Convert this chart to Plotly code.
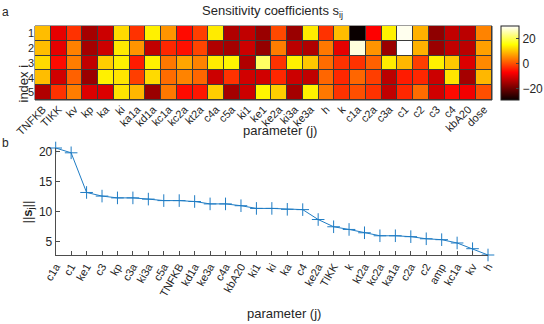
#!/usr/bin/env python3

import plotly.graph_objs as go

W, H = 544, 324

# Panel a: sensitivity coefficients s_ij (rows i = 1..5, columns j = parameters)
params = ["TNFKB", "TIKK", "kv", "kp", "ka", "ki", "ka1a", "kd1a", "kc1a", "kc2a",
          "kt2a", "c4a", "c5a", "ki1", "ke1", "ke2a", "ki3a", "ke3a", "h", "k",
          "c1a", "c2a", "c3a", "c1", "c2", "c3", "c4", "kbA20", "dose"]
row_index = [1, 2, 3, 4, 5]

s_row1 = [9.5, -9, -2.5, -15, -11.5, 12, -2.5, 14, 6, -6,
          -1.5, 13.5, -14, -12.5, -16, -0.5, -16, 13.5, -2.5, 9.5,
          -29, -7, 14, 29, 8.5, -17, -12.5, -13, 4.5]
s_row2 = [9.5, -9, 4.3, -15, -11.5, 13.5, 6, -12.5, -3.5, -5.5,
          -1, -14, -15, -11.5, -16.5, 4, -13, -14, 3.5, -9,
          28, 6, -16, 30, 8.5, -16, -12.5, -13, 7]
s_row3 = [12, -6, 4, -12.5, 11, 14, -4.5, 14, 3.5, 7.5,
          4.5, 13.5, 14.5, -14, 21, -2.5, 14, 10.5, 2.5, -2.5,
          -2.5, 1.5, 13.5, 9, -1.5, 14, 10.5, -10, 5]
s_row4 = [9.5, -11, 1.5, -16, 14, 13, -1.5, 12, 2.5, 4.5,
          2, -11.5, -2.5, -11, -11, -3.5, -11.5, -12.5, 2, -3.5,
          2, -1.5, -13, -4.5, -3.5, -11.5, 13, -15, 9]
s_row5 = [-14, -2.5, 4, -10, -10, 13, 9, -16, 3.5, -6,
          -5, 11, -15, -11.5, 14.5, 11, -15, 14, 3.5, -2.5,
          0, -2.5, -12.5, -3.5, 2.5, -11, -6, -8, 0]

# Panel b: norm of sensitivity per parameter, sorted
ranked_params = ["c1a", "c1", "ke1", "c3", "kp", "c3a", "ki3a", "c5a", "TNFKB", "kd1a",
                 "ke3a", "c4a", "kbA20", "ki1", "ki", "ka", "c4", "ke2a", "TIKK", "k",
                 "kt2a", "kc2a", "ka1a", "c2a", "c2", "amp", "kc1a", "kv", "h"]
s_norm = [20.6, 19.8, 13.2, 12.6, 12.3, 12.3, 12.1, 11.85, 11.85, 11.7,
          11.3, 11.3, 11.0, 10.55, 10.55, 10.4, 10.35, 8.7, 7.5, 7.05,
          6.5, 6.0, 6.0, 5.85, 5.5, 5.35, 4.8, 3.85, 2.8]


def px_x(x):
    return x / W


def px_y(y):
    return 1 - y / H


hot = [[0, "rgb(10,0,0)"], [0.375, "rgb(255,0,0)"],
       [0.75, "rgb(255,255,0)"], [1, "rgb(255,255,255)"]]

font = "Liberation Sans, Arial, sans-serif"
txt = "#262626"
axc = "#4d4d4d"
blue = "#1f7cc4"

fig = go.Figure()

fig.add_trace(
    go.Heatmap(
        z=[s_row1, s_row2, s_row3, s_row4, s_row5],
        x=list(range(len(params))),
        y=row_index,
        colorscale=hot,
        zmin=-29,
        zmax=30,
        xgap=1,
        ygap=1,
        xaxis="x",
        yaxis="y",
        colorbar=dict(
            x=px_x(501), xanchor="left", y=px_y(63), yanchor="middle",
            lenmode="pixels", len=74, thickness=18, xpad=0, ypad=0,
            outlinecolor="#222", outlinewidth=1,
            tickvals=[-20, 0, 20], ticks="inside", ticklen=3,
            tickfont=dict(size=12, color=txt, family=font),
        ),
    )
)

fig.add_trace(
    go.Scatter(
        x=list(range(len(ranked_params))),
        y=s_norm,
        mode="lines+markers",
        line=dict(color=blue, width=1),
        marker=dict(symbol="cross-thin", size=9, line=dict(color=blue, width=1)),
        cliponaxis=False,
        xaxis="x2",
        yaxis="y2",
    )
)

fig.update_layout(
    width=W,
    height=H,
    margin=dict(l=0, r=0, t=0, b=0, autoexpand=False),
    paper_bgcolor="white",
    plot_bgcolor="white",
    showlegend=False,
    font=dict(family=font, color=txt, size=11),
    xaxis=dict(
        domain=[px_x(35), px_x(492)], anchor="y", automargin=False,
        range=[-0.5, len(params) - 0.5],
        tickvals=list(range(len(params))), ticktext=params,
        tickangle=-45, ticks="", showgrid=False, zeroline=False,
        tickfont=dict(size=11, color=txt),
    ),
    yaxis=dict(
        domain=[px_y(100), px_y(26)], anchor="x", automargin=False,
        range=[5.5, 0.5], tickvals=row_index, ticks="",
        showgrid=False, zeroline=False,
        tickfont=dict(size=11, color=txt),
    ),
    xaxis2=dict(
        domain=[px_x(55.7), px_x(488)], anchor="y2", automargin=False,
        range=[0, len(ranked_params) - 1],
        tickvals=list(range(len(ranked_params))), ticktext=ranked_params,
        tickangle=-60, ticks="inside", ticklen=4, tickcolor=axc,
        showline=True, linecolor=axc, showgrid=False, zeroline=False,
        tickfont=dict(size=11, color=txt),
    ),
    yaxis2=dict(
        domain=[px_y(255), px_y(148)], anchor="x2", automargin=False,
        range=[2.8, 20.6], tickvals=[5, 10, 15, 20],
        ticks="inside", ticklen=4, tickcolor=axc,
        showline=True, linecolor=axc, showgrid=False, zeroline=False,
        tickfont=dict(size=12, color=txt),
    ),
)

# dark cell borders behind the heatmap
fig.add_shape(type="rect", xref="paper", yref="paper",
              x0=px_x(35), x1=px_x(492), y0=px_y(100), y1=px_y(26),
              fillcolor="#3a3a3a", line=dict(color="#3a3a3a", width=1), layer="below")

ann = [
    dict(x=5, y=12, text="a", size=12),
    dict(x=5, y=143, text="b", size=12),
    dict(x=272, y=11, text="Sensitivity coefficients s<sub>ij</sub>", size=13),
    dict(x=280, y=130, text="parameter (j)", size=13),
    dict(x=284, y=313, text="parameter (j)", size=13),
]
for a in ann:
    fig.add_annotation(x=px_x(a["x"]), y=px_y(a["y"]), xref="paper", yref="paper",
                       text=a["text"], showarrow=False, xanchor="center", yanchor="middle",
                       font=dict(size=a["size"], color=txt))

fig.add_annotation(x=px_x(13), y=px_y(63), xref="paper", yref="paper",
                   text="index i", textangle=-90, showarrow=False,
                   font=dict(size=13, color=txt))
fig.add_annotation(x=px_x(17), y=px_y(212), xref="paper", yref="paper",
                   text="||<b>s</b><sub>j</sub>||", textangle=-90, showarrow=False,
                   font=dict(size=13, color=txt))

# the page body has a default 8px margin; drop it so the figure sits at the corner
fig.write_html(
    "out.html",
    config={"displayModeBar": False},
    post_script="document.body.style.margin = '0px';",
)
